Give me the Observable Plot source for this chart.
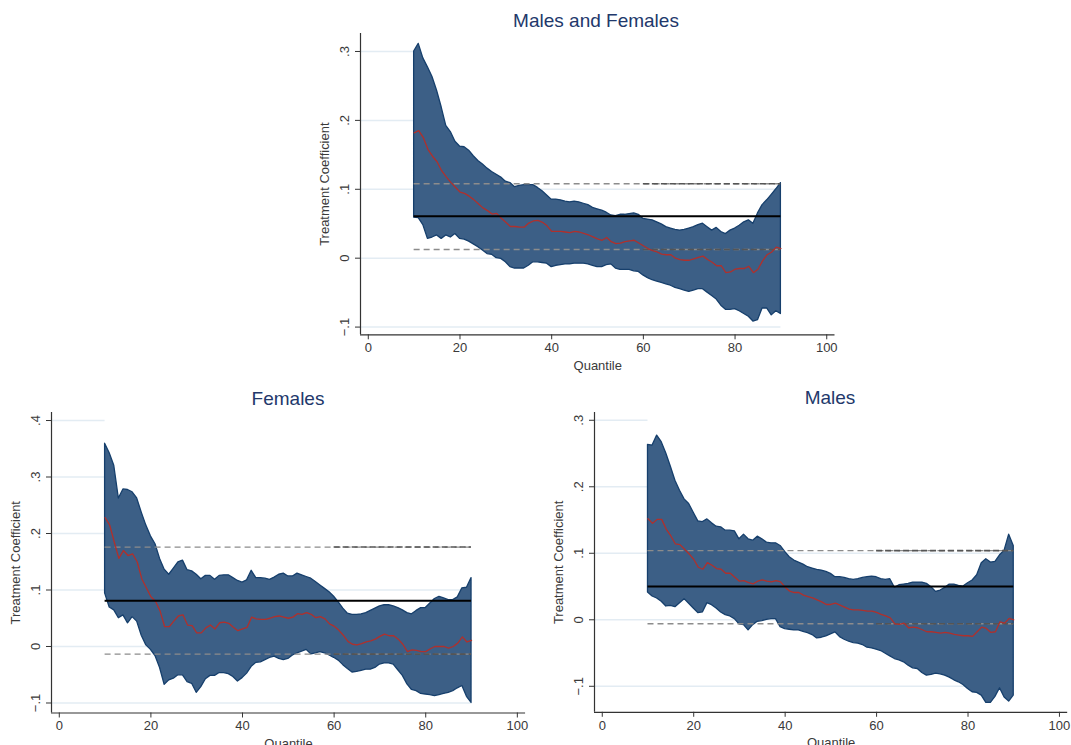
<!DOCTYPE html>
<html><head><meta charset="utf-8">
<script src="https://cdn.jsdelivr.net/npm/d3@7"></script>
<script src="https://cdn.jsdelivr.net/npm/@observablehq/plot@0.6"></script>
<style>
body{margin:0;background:#fff;}
#root{position:relative;width:1071px;height:745px;overflow:hidden;font-family:"Liberation Sans",Arial,sans-serif;background:#fff;}
.panel{position:absolute;}
.title{position:absolute;transform:translate(-50%,-50%);font-size:19px;color:#22386b;white-space:nowrap;line-height:1;}
</style></head><body><div id="root"></div>
<script>
// Quantiles at which the coefficients are read
const quantiles = [10,11,12,13,14,15,16,17,18,19,20,21,22,23,24,25,26,27,28,29,30,31,32,33,34,35,36,37,38,39,40,41,42,43,44,45,46,47,48,49,50,51,52,53,54,55,56,57,58,59,60,61,62,63,64,65,66,67,68,69,70,71,72,73,74,75,76,77,78,79,80,81,82,83,84,85,86,87,88,89,90];
const xTicks = [0,20,40,60,80,100];

// Males and Females
const allUpper = [.300,.311,.290,.277,.263,.243,.219,.192,.183,.169,
  .162,.161,.156,.148,.141,.136,.130,.125,.121,.117,
  .111,.109,.103,.105,.106,.106,.106,.102,.097,.091,
  .085,.085,.084,.082,.081,.082,.081,.079,.077,.073,
  .071,.069,.066,.062,.061,.063,.063,.064,.065,.063,
  .057,.056,.055,.052,.049,.045,.043,.041,.040,.041,
  .043,.045,.048,.050,.045,.040,.044,.038,.035,.040,
  .043,.047,.052,.055,.050,.065,.077,.084,.092,.100,
  .109];
const allLower = [.059,.058,.048,.028,.030,.033,.028,.033,.030,.035,
  .028,.027,.024,.020,.016,.011,.006,.005,.000,-.001,
  -.006,-.013,-.015,-.015,-.015,-.011,-.006,-.006,-.007,-.008,
  -.013,-.011,-.010,-.009,-.009,-.008,-.008,-.008,-.009,-.011,
  -.013,-.013,-.010,-.009,-.015,-.017,-.017,-.017,-.019,-.020,
  -.025,-.029,-.032,-.034,-.036,-.038,-.040,-.043,-.045,-.047,
  -.049,-.047,-.045,-.045,-.050,-.055,-.060,-.069,-.075,-.075,
  -.074,-.077,-.081,-.085,-.092,-.090,-.073,-.073,-.083,-.077,
  -.081];
const allEst = [.182,.185,.175,.158,.148,.140,.127,.118,.110,.103,
  .096,.094,.090,.085,.079,.073,.069,.064,.065,.058,
  .052,.046,.046,.045,.045,.051,.054,.055,.052,.047,
  .039,.039,.039,.038,.037,.039,.038,.036,.034,.031,
  .028,.026,.030,.024,.021,.022,.024,.025,.026,.022,
  .018,.014,.011,.009,.006,.005,.005,.000,-.002,-.003,
  -.003,-.001,.001,.003,-.002,-.006,-.011,-.011,-.021,-.020,
  -.016,-.015,-.015,-.012,-.021,-.016,-.004,.005,.009,.016,
  .014];
const allOls = [0.061, 0.0126, 0.108];   // estimate, lower CI, upper CI
const allYTicks = [-0.1,0,0.1,0.2,0.3];

// Females
const femUpper = [.359,.342,.320,.262,.278,.277,.273,.262,.237,.214,
  .195,.181,.155,.136,.127,.138,.149,.152,.135,.133,
  .127,.119,.125,.125,.118,.125,.126,.126,.121,.116,
  .113,.117,.134,.121,.121,.120,.118,.122,.127,.129,
  .124,.124,.129,.126,.123,.120,.114,.108,.102,.096,
  .088,.078,.067,.058,.056,.056,.057,.059,.063,.067,
  .071,.073,.073,.071,.068,.064,.059,.057,.063,.068,
  .068,.076,.084,.088,.085,.082,.082,.087,.103,.104,
  .121];
const femLower = [.094,.069,.064,.050,.055,.041,.052,.044,.019,.002,
  -.006,-.017,-.038,-.068,-.060,-.057,-.051,-.051,-.063,-.066,
  -.082,-.072,-.058,-.052,-.052,-.047,-.047,-.049,-.054,-.062,
  -.056,-.048,-.036,-.029,-.028,-.024,-.020,-.018,-.022,-.024,
  -.022,-.016,-.012,-.009,-.006,-.014,-.012,-.010,-.012,-.016,
  -.020,-.025,-.033,-.040,-.046,-.045,-.043,-.041,-.041,-.038,
  -.032,-.030,-.030,-.032,-.042,-.052,-.067,-.077,-.079,-.084,
  -.085,-.086,-.088,-.086,-.084,-.082,-.079,-.074,-.070,-.089,
  -.100];
const femEst = [.228,.215,.185,.156,.170,.161,.164,.150,.120,.104,
  .088,.080,.063,.035,.035,.045,.054,.056,.038,.037,
  .024,.024,.033,.038,.031,.042,.043,.041,.034,.028,
  .031,.034,.052,.049,.048,.048,.050,.053,.054,.052,
  .050,.052,.058,.057,.060,.057,.051,.053,.049,.040,
  .036,.029,.020,.009,.004,.003,.005,.008,.010,.013,
  .018,.022,.019,.019,.013,.004,-.009,-.006,-.007,-.009,
  -.009,-.004,.000,.000,.000,-.003,.000,.006,.017,.008,
  .011];
const femOls = [0.081, -0.0135, 0.176];
const femYTicks = [-0.1,0,0.1,0.2,0.3,0.4];

// Males
const maleUpper = [.263,.262,.277,.267,.250,.230,.209,.194,.181,.174,
  .161,.148,.147,.151,.145,.140,.139,.134,.134,.133,
  .121,.128,.121,.119,.125,.121,.116,.115,.115,.111,
  .102,.094,.089,.086,.083,.079,.077,.075,.074,.072,
  .069,.064,.064,.063,.061,.060,.061,.063,.064,.065,
  .064,.061,.060,.061,.048,.052,.053,.054,.056,.056,
  .056,.054,.049,.042,.044,.048,.053,.053,.051,.050,
  .055,.059,.067,.085,.091,.086,.087,.097,.104,.128,
  .111];
const maleLower = [.041,.035,.032,.027,.020,.021,.019,.025,.031,.024,
  .017,.010,.011,.025,.022,.017,.011,.007,.005,.001,
  -.007,-.008,-.016,-.008,-.003,-.002,.000,.001,.001,-.011,
  -.014,-.015,-.016,-.016,-.018,-.020,-.023,-.028,-.027,-.025,
  -.022,-.019,-.026,-.030,-.033,-.035,-.036,-.038,-.042,-.043,
  -.045,-.047,-.051,-.055,-.059,-.061,-.064,-.069,-.073,-.074,
  -.080,-.084,-.083,-.081,-.082,-.084,-.087,-.091,-.094,-.098,
  -.104,-.109,-.110,-.114,-.125,-.125,-.116,-.103,-.117,-.123,
  -.114];
const maleEst = [.152,.145,.151,.151,.136,.126,.114,.113,.106,.099,
  .091,.079,.076,.086,.082,.077,.076,.070,.070,.064,
  .058,.059,.056,.054,.058,.060,.058,.057,.059,.057,
  .049,.043,.041,.041,.037,.035,.033,.030,.027,.023,
  .023,.025,.022,.019,.016,.015,.015,.014,.013,.013,
  .011,.008,.006,.003,-.006,-.007,-.005,-.012,-.011,-.012,
  -.015,-.018,-.018,-.019,-.020,-.019,-.020,-.022,-.023,-.024,
  -.024,-.025,-.018,-.011,-.013,-.019,-.018,-.003,-.005,.002,
  .000];
const maleOls = [0.050, -0.006, 0.104];
const maleYTicks = [-0.1,0,0.1,0.2,0.3];

const xDomain = [-1.7, 101.8];
const fmt = d => d === 0 ? "0" : d3.format(".1f")(d).replace("0.", ".");
const FONT = "'Liberation Sans', Arial, sans-serif";

function panel(spec) {
  const mL = 60, mR = 14, mT = 8, mB = 45;
  const fw = spec.right - spec.left, fh = spec.bottom - spec.top;
  const data = quantiles.map((q, i) => ({q, lo: spec.lower[i], hi: spec.upper[i], est: spec.est[i]}));
  const [ols, olsLo, olsHi] = spec.ols;
  const gridLow = spec.yTicks.filter(d => d <= 0.1);
  const gridHigh = spec.yTicks.filter(d => d > 0.1);
  const plot = Plot.plot({
    width: fw + mL + mR, height: fh + mT + mB,
    marginLeft: mL, marginRight: mR, marginTop: mT, marginBottom: mB,
    style: {fontFamily: FONT, fontSize: "13px", color: "#3a3a3a", background: "transparent", overflow: "visible"},
    x: {domain: xDomain},
    y: {domain: spec.yDomain},
    marks: [
      Plot.ruleY(gridLow, {x1: xDomain[0], x2: 90, stroke: "#e3ecf3", strokeWidth: 1.5}),
      Plot.ruleY(gridHigh, {x1: xDomain[0], x2: 10, stroke: "#e3ecf3", strokeWidth: 1.5}),
      Plot.areaY(data, {x: "q", y1: "lo", y2: "hi", fill: "#3c5f86", stroke: "#163f6c", strokeWidth: 1.3}),
      Plot.ruleY([olsHi, olsLo], {x1: 10, x2: 90, stroke: "#8c8c8c", strokeDasharray: "6,4", strokeWidth: 1.3}),
      Plot.ruleY([olsHi, olsLo], {x1: 60, x2: 90, stroke: "#555", strokeDasharray: "6,3", strokeWidth: 1.6}),
      Plot.line(data, {x: "q", y: "est", stroke: "#b0302c", strokeWidth: 1.3}),
      Plot.ruleY([ols], {x1: 10, x2: 90, stroke: "#000", strokeWidth: 2}),
      Plot.ruleX([xDomain[0]], {stroke: "#333", strokeWidth: 1.2}),
      Plot.ruleY([spec.yDomain[0]], {stroke: "#333", strokeWidth: 1.2}),
      Plot.axisX({ticks: xTicks, tickSize: 5, tickPadding: 3, label: null, stroke: "#333"}),
      Plot.axisY({ticks: spec.yTicks, tickSize: 5, tickFormat: () => "", label: null, stroke: "#333"}),
      Plot.text(spec.yTicks, {y: d => d, text: fmt, frameAnchor: "left", dx: -16, rotate: -90, textAnchor: "middle", lineAnchor: "middle", fill: "#3a3a3a"}),
      Plot.text(["Treatment Coefficient"], {text: d => d, frameAnchor: "left", dx: -36, rotate: -90, textAnchor: "middle", lineAnchor: "middle", fill: "#3a3a3a"}),
      Plot.text(["Quantile"], {text: d => d, frameAnchor: "bottom", dy: 31, textAnchor: "middle", lineAnchor: "middle", fill: "#3a3a3a"})
    ]
  });
  plot.classList.add("panel");
  plot.style.left = (spec.left - mL) + "px";
  plot.style.top = (spec.top - mT) + "px";
  const root = document.getElementById("root");
  root.appendChild(plot);
  const t = document.createElement("div");
  t.className = "title";
  t.textContent = spec.title;
  t.style.left = spec.tx + "px";
  t.style.top = spec.ty + "px";
  root.appendChild(t);
}

panel({title: "Males and Females", tx: 596, ty: 20, left: 360, right: 834.5, top: 33, bottom: 334.3,
  yDomain: [-0.1112, 0.3261], yTicks: allYTicks, upper: allUpper, lower: allLower, est: allEst, ols: allOls});
panel({title: "Females", tx: 288, ty: 398, left: 50.9, right: 525, top: 412, bottom: 712.5,
  yDomain: [-0.1177, 0.4142], yTicks: femYTicks, upper: femUpper, lower: femLower, est: femEst, ols: femOls});
panel({title: "Males", tx: 830, ty: 397, left: 594.3, right: 1067.5, top: 411.7, bottom: 711.5,
  yDomain: [-0.1391, 0.3117], yTicks: maleYTicks, upper: maleUpper, lower: maleLower, est: maleEst, ols: maleOls});
</script></body></html>
